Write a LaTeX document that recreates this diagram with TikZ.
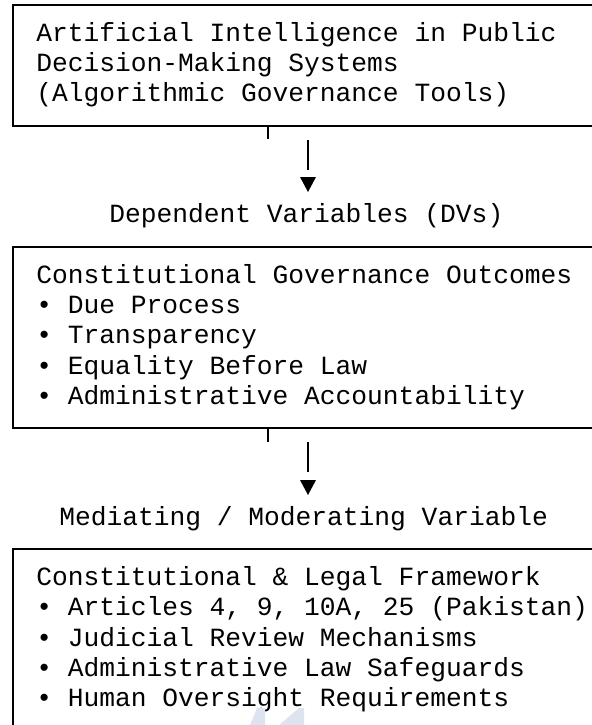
\documentclass[tikz,border=0pt]{standalone}
\usepackage{fontspec}
\setmonofont{Liberation Mono}
\usetikzlibrary{positioning}

\definecolor{faintblue}{HTML}{DDE3EF}

\begin{document}
\begin{tikzpicture}[
    x=0.75pt, y=-0.75pt,
    mono/.style={font=\ttfamily\fontsize{19.7}{22.69}\selectfont, inner sep=0pt},
    body/.style={mono, anchor=base west, align=left},
    heading/.style={mono, anchor=base west},
    frame/.style={draw, line width=1.4pt, anchor=north west, minimum width=471pt, inner sep=0pt},
    stub/.style={line width=1.4pt},
    shaft/.style={line width=1.4pt},
    head/.style={fill=black},
]
    \useasboundingbox (0,0) rectangle (592,725);
    \clip (0,0) rectangle (592,725);

    % frames, the right side runs off the page
    \node (aiBox)  [frame, minimum height=90.75pt]  at (12,4)   {};
    \node (dvBox)  [frame, minimum height=135.75pt] at (12,246) {};
    \node (lawBox) [frame, minimum height=180pt]    at (12,548) {};

    % text blocks sit on the baseline of their last line
    \node (aiText) [body] at (36,101.75)
        {Artificial Intelligence in Public\\
         Decision-Making Systems\\
         (Algorithmic Governance Tools)};
    \node (dvText) [body] at (36,404.25)
        {Constitutional Governance Outcomes\\
         \textbullet{} Due Process\\
         \textbullet{} Transparency\\
         \textbullet{} Equality Before Law\\
         \textbullet{} Administrative Accountability};
    \node (lawText) [body] at (36,706.75)
        {Constitutional \& Legal Framework\\
         \textbullet{} Articles 4, 9, 10A, 25 (Pakistan)\\
         \textbullet{} Judicial Review Mechanisms\\
         \textbullet{} Administrative Law Safeguards\\
         \textbullet{} Human Oversight Requirements};

    \node (dvLabel)  [heading] at (109,222.75) {Dependent Variables (DVs)};
    \node (lawLabel) [heading] at (59,525.25)  {Mediating / Moderating Variable};

    % first arrow
    \coordinate (aiStub) at (268,139);
    \coordinate (aiTop)  at (308,140);
    \coordinate (aiEnd)  at (308,170);
    \draw[stub] (aiBox.south -| aiStub) -- (aiStub);
    \draw[shaft] (aiTop) -- (aiEnd);
    \fill[head] (300,177) -- (316,177) -- (308,192) -- cycle;

    % second arrow
    \coordinate (dvStub) at (268,442);
    \coordinate (dvTop)  at (308,442);
    \coordinate (dvEnd)  at (308,472);
    \draw[stub] (dvBox.south -| dvStub) -- (dvStub);
    \draw[shaft] (dvTop) -- (dvEnd);
    \fill[head] (300,480) -- (316,480) -- (308,495) -- cycle;

    % faint mark at the foot
    \fill[faintblue] (250,725) -- (257,708) -- (265,708) -- (265,725) -- cycle;
    \fill[faintblue] (279,725) -- (299,708) -- (304,708) -- (304,725) -- cycle;
\end{tikzpicture}
\end{document}
